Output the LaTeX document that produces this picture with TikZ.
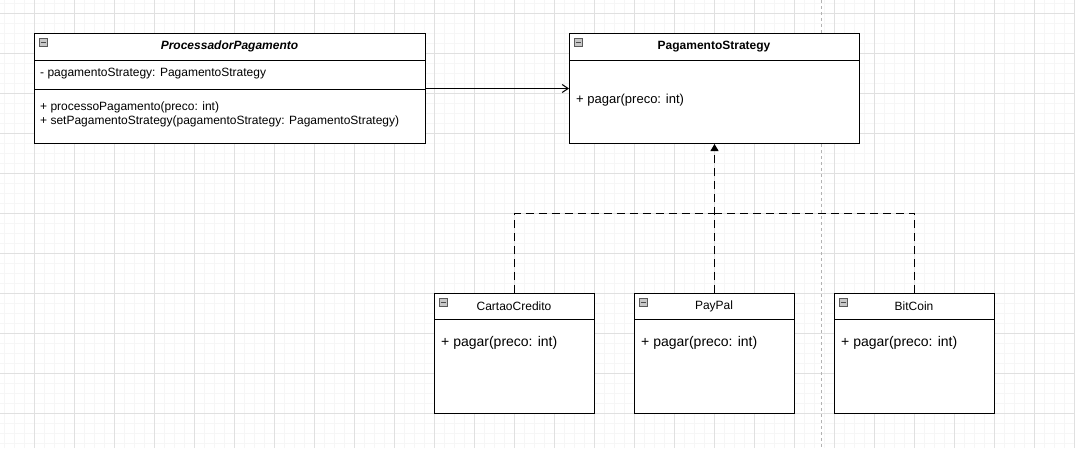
\documentclass[tikz,border=0pt]{standalone}
\usepackage{fontspec}
\setmainfont{Liberation Sans}
\usetikzlibrary{arrows.meta,calc}
\tikzset{
  x=1pt, y=-1pt,
  umlbox/.style={draw=black, line width=1pt, fill=white, rectangle, anchor=north west, inner sep=0pt},
  divider/.style={draw=black, line width=1pt},
  titletext/.style={font=\fontsize{12}{14}\selectfont, inner sep=0pt, anchor=center},
  membertext/.style={font=\fontsize{12}{14}\selectfont, inner sep=0pt, anchor=west, align=left},
  bigmember/.style={font=\fontsize{14}{16}\selectfont, inner sep=0pt, anchor=west},
  midmember/.style={font=\fontsize{13}{15}\selectfont, inner sep=0pt, anchor=west},
  collapse/.style={draw=black!65, fill=black!22, line width=0.6pt, rectangle, minimum width=8.5pt, minimum height=8.5pt, inner sep=0pt, anchor=north west},
  assoc/.style={draw=black, line width=1pt, -{Straight Barb[length=6pt,width=8pt]}},
  realizeline/.style={draw=black, line width=1pt, dash pattern=on 8pt off 5pt},
  realize/.style={realizeline, -{Triangle[length=7pt,width=8pt]}},
}
\newcommand{\collapsemark}[2]{%
  \node[collapse] (#1) at (#2) {};
  \draw[black!70, line width=0.8pt] ($(#1.west)+(2,0)$) -- ($(#1.east)+(-2,0)$);
}
\begin{document}
\begin{tikzpicture}
\useasboundingbox (0,0) rectangle (1075,448);
\fill[white] (0,0) rectangle (1075,448);
% grid
\foreach \gx in {4,14,...,1074} \draw[black!3.5, line width=0.8pt] (\gx,0) -- (\gx,448);
\foreach \gy in {3,13,...,443} \draw[black!3.5, line width=0.8pt] (0,\gy) -- (1075,\gy);
\foreach \gx in {34,74,...,1074} \draw[black!12, line width=1pt] (\gx,0) -- (\gx,448);
\foreach \gy in {13,53,...,443} \draw[black!12, line width=1pt] (0,\gy) -- (1075,\gy);
% page break
\draw[black!30, line width=1pt, dash pattern=on 3pt off 3pt] (821,0) -- (821,448);

% ProcessadorPagamento
\node[umlbox, minimum width=391pt, minimum height=110pt] (proc) at (34,33) {};
\draw[divider] (34,60) -- (425,60);
\draw[divider] (34,89) -- (425,89);
\collapsemark{procC}{38.5,37.5}
\node[titletext, font=\fontsize{12}{14}\selectfont\bfseries\itshape] (procT) at (229.5,46.5) {ProcessadorPagamento};
\node[membertext] (procA) at (40,73.5) {- pagamentoStrategy: PagamentoStrategy};
\node[membertext] (procM1) at (40,107) {+ processoPagamento(preco: int)};
\node[membertext] (procM2) at (40,121) {+ setPagamentoStrategy(pagamentoStrategy: PagamentoStrategy)};

% PagamentoStrategy
\node[umlbox, minimum width=290pt, minimum height=110pt] (strat) at (569,33) {};
\draw[divider] (569,60) -- (859,60);
\collapsemark{stratC}{573.5,37.5}
\node[titletext, font=\fontsize{12}{14}\selectfont\bfseries] (stratT) at (714,46.5) {PagamentoStrategy};
\node[midmember] (stratM) at (576,100) {+ pagar(preco: int)};

% concrete strategies
\node[umlbox, minimum width=160pt, minimum height=120pt] (cartao) at (434,293) {};
\node[umlbox, minimum width=160pt, minimum height=120pt] (paypal) at (634,293) {};
\node[umlbox, minimum width=160pt, minimum height=120pt] (bitcoin) at (834,293) {};
\draw[divider] (434,319) -- (594,319);
\draw[divider] (634,319) -- (794,319);
\draw[divider] (834,319) -- (994,319);
\collapsemark{cartaoC}{438.5,297.5}
\collapsemark{paypalC}{638.5,297.5}
\collapsemark{bitcoinC}{838.5,297.5}
\node[titletext] (cartaoT) at (514,306.5) {CartaoCredito};
\node[titletext] (paypalT) at (714,306.5) {PayPal};
\node[titletext] (bitcoinT) at (914,306.5) {BitCoin};
\node[bigmember] (cartaoM) at (441,343) {+ pagar(preco: int)};
\node[bigmember] (paypalM) at (641,343) {+ pagar(preco: int)};
\node[bigmember] (bitcoinM) at (841,343) {+ pagar(preco: int)};

% connectors
\draw[assoc] (proc.east) -- (strat.west);
\coordinate (junc) at (714,213);
\draw[realize] (paypal.north) -- (strat.south);
\draw[realizeline] (cartao.north) -- (cartao.north |- junc) -- (junc);
\draw[realizeline] (bitcoin.north) -- (bitcoin.north |- junc) -- (junc);
\end{tikzpicture}
\end{document}
